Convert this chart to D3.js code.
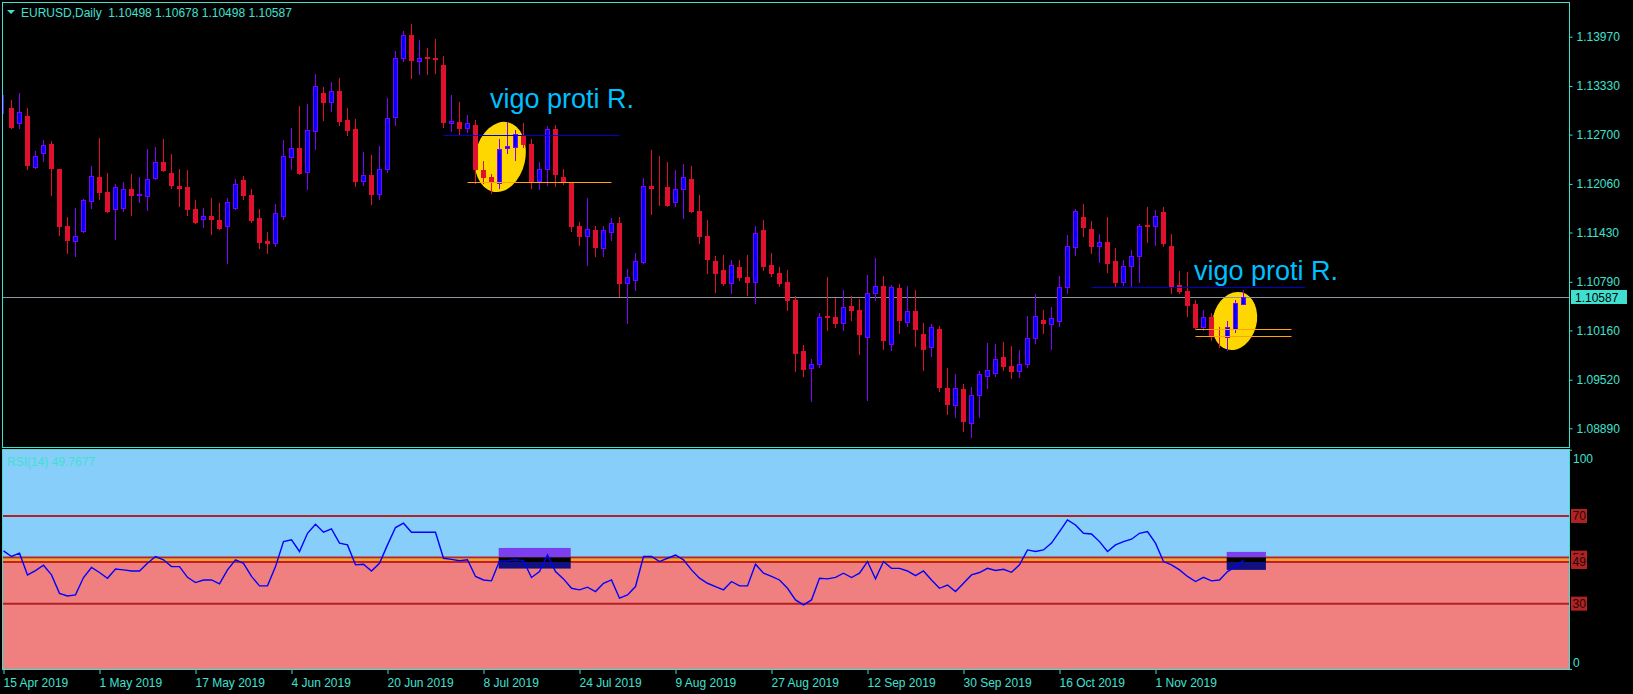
<!DOCTYPE html>
<html><head><meta charset="utf-8">
<script src="https://cdnjs.cloudflare.com/ajax/libs/d3/7.8.5/d3.min.js"></script>
<style>
html,body{margin:0;padding:0;background:#000;overflow:hidden}
svg{display:block}
text{font-family:"Liberation Sans",Arial,sans-serif}
</style>
</head><body>
<svg id="c" width="1633" height="694"></svg>
<script>
// ---------- DATA ----------
const opens = [1.1304,1.1304,1.1285,1.1294,1.1228,1.1246,1.1258,1.1225,1.1152,1.1132,1.1145,1.1184,1.1215,1.1196,1.1173,1.1175,1.1199,1.1191,1.1190,1.1214,1.1234,1.1220,1.1203,1.1202,1.1173,1.1160,1.1165,1.1159,1.1151,1.1175,1.1211,1.1192,1.1162,1.1132,1.1129,1.1165,1.1241,1.1253,1.1222,1.1275,1.1324,1.1312,1.1327,1.1289,1.1277,1.1210,1.1217,1.1193,1.1226,1.1293,1.1370,1.1399,1.1365,1.1371,1.1369,1.1360,1.1285,1.1286,1.1278,1.1283,1.1224,1.1215,1.1207,1.1252,1.1254,1.1270,1.1258,1.1210,1.1225,1.1277,1.1215,1.1209,1.1152,1.1139,1.1146,1.1123,1.1144,1.1155,1.1078,1.1081,1.1105,1.1203,1.1200,1.1202,1.1182,1.1200,1.1213,1.1171,1.1139,1.1106,1.1094,1.1077,1.1098,1.1085,1.1079,1.1146,1.1101,1.1090,1.1079,1.1056,1.0989,1.0967,1.0973,1.1035,1.1034,1.1025,1.1048,1.1042,1.1008,1.1065,1.1073,1.0999,1.1071,1.1027,1.1041,1.1011,1.0994,1.1018,1.0941,1.0919,1.0940,1.0896,1.0932,1.0957,1.0961,1.0982,1.0970,1.0963,1.0973,1.1006,1.1030,1.1024,1.1028,1.1072,1.1124,1.1163,1.1148,1.1125,1.1131,1.1106,1.1079,1.1099,1.1112,1.1153,1.1152,1.1170,1.1126,1.1075,1.1067,1.1050,1.1020,1.1033,1.1008,1.1008,1.1018,1.10498];
const highs = [1.1321,1.1315,1.1324,1.1304,1.1249,1.1263,1.1262,1.1225,1.1163,1.1175,1.1187,1.1229,1.1266,1.1220,1.1206,1.1209,1.1219,1.1215,1.1251,1.1254,1.1264,1.1245,1.1225,1.1224,1.1185,1.1175,1.1188,1.1181,1.1188,1.1212,1.1216,1.1200,1.1174,1.1144,1.1180,1.1263,1.1279,1.1307,1.1310,1.1349,1.1332,1.1338,1.1344,1.1305,1.1290,1.1248,1.1244,1.1255,1.1318,1.1378,1.1404,1.1414,1.1393,1.1382,1.1394,1.1372,1.1321,1.1312,1.1296,1.1289,1.1236,1.1219,1.1264,1.1286,1.1276,1.1285,1.1264,1.1235,1.1281,1.1283,1.1225,1.1209,1.1157,1.1188,1.1152,1.1152,1.1162,1.1163,1.1096,1.1117,1.1214,1.1250,1.1242,1.1234,1.1224,1.1232,1.1229,1.1192,1.1159,1.1113,1.1114,1.1107,1.1107,1.1114,1.1151,1.1159,1.1117,1.1098,1.1094,1.1061,1.0997,1.0979,1.1038,1.1085,1.1058,1.1069,1.1061,1.1057,1.1088,1.1110,1.1087,1.1075,1.1076,1.1074,1.1069,1.1026,1.1024,1.1022,1.0967,1.0960,1.0947,1.0943,1.0963,1.1000,1.0998,1.1001,1.0996,1.0991,1.1035,1.1063,1.1043,1.1046,1.1087,1.1140,1.1174,1.1180,1.1158,1.1141,1.1163,1.1123,1.1107,1.1120,1.1154,1.1176,1.1172,1.1176,1.1141,1.1093,1.1092,1.1056,1.1043,1.1038,1.1021,1.1028,1.1056,1.10678];
const lows = [1.1298,1.1279,1.1279,1.1226,1.1227,1.1236,1.1192,1.1140,1.1117,1.1112,1.1143,1.1175,1.1187,1.1170,1.1135,1.1171,1.1166,1.1183,1.1172,1.1212,1.1223,1.1201,1.1177,1.1166,1.1155,1.1150,1.1141,1.1148,1.1103,1.1174,1.1187,1.1157,1.1123,1.1116,1.1125,1.1160,1.1225,1.1219,1.1200,1.1251,1.1289,1.1301,1.1283,1.1269,1.1203,1.1204,1.1180,1.1187,1.1222,1.1283,1.1366,1.1344,1.1348,1.1348,1.1350,1.1280,1.1275,1.1270,1.1273,1.1207,1.1207,1.1194,1.1201,1.1246,1.1237,1.1254,1.1201,1.1200,1.1205,1.1203,1.1206,1.1145,1.1127,1.1101,1.1112,1.1113,1.1133,1.1060,1.1026,1.1069,1.1104,1.1167,1.1179,1.1177,1.1178,1.1162,1.1170,1.1130,1.1091,1.1066,1.1075,1.1065,1.1081,1.1062,1.1052,1.1094,1.1086,1.1073,1.1042,1.0963,1.0957,1.0925,1.0968,1.1017,1.1020,1.1016,1.1030,1.0985,1.0926,1.1055,1.0992,1.0990,1.1013,1.1022,1.0996,1.0965,1.0983,1.0937,1.0908,1.0904,1.0885,1.0878,1.0904,1.0941,1.0957,1.0965,1.0954,1.0956,1.0969,1.1000,1.1013,1.0992,1.1022,1.1065,1.1114,1.1139,1.1117,1.1105,1.1092,1.1073,1.1075,1.1072,1.1079,1.1131,1.1127,1.1125,1.1064,1.1065,1.1035,1.1019,1.1016,1.1003,1.0995,1.0991,1.1014,1.10498];
const closes = [1.1305,1.1280,1.1299,1.1230,1.1242,1.1257,1.1227,1.1152,1.1133,1.1139,1.1185,1.1216,1.1195,1.1171,1.1202,1.1199,1.1192,1.1193,1.1212,1.1234,1.1224,1.1204,1.1201,1.1173,1.1157,1.1165,1.1161,1.1149,1.1182,1.1206,1.1191,1.1159,1.1131,1.1129,1.1168,1.1242,1.1252,1.1220,1.1276,1.1333,1.1312,1.1326,1.1287,1.1276,1.1210,1.1217,1.1193,1.1226,1.1292,1.1370,1.1399,1.1367,1.1369,1.1370,1.1368,1.1286,1.1287,1.1278,1.1285,1.1225,1.1215,1.1209,1.1251,1.1255,1.1271,1.1258,1.1208,1.1225,1.1277,1.1219,1.1208,1.1151,1.1139,1.1147,1.1124,1.1146,1.1155,1.1077,1.1085,1.1106,1.1203,1.1201,1.1199,1.1179,1.1200,1.1215,1.1171,1.1139,1.1109,1.1090,1.1078,1.1101,1.1085,1.1079,1.1142,1.1099,1.1090,1.1078,1.1056,1.0987,1.0966,1.0973,1.1034,1.1034,1.1025,1.1046,1.1042,1.1011,1.1064,1.1073,1.1004,1.1072,1.1029,1.1041,1.1018,1.0992,1.1020,1.0942,1.0920,1.0941,1.0899,1.0932,1.0959,1.0964,1.0979,1.0970,1.0963,1.0973,1.1006,1.1035,1.1026,1.1032,1.1072,1.1125,1.1171,1.1150,1.1125,1.1131,1.1104,1.1079,1.1099,1.1112,1.1152,1.1152,1.1165,1.1129,1.1073,1.1067,1.1049,1.1020,1.1033,1.1009,1.1007,1.1021,1.1052,1.10587];
const rsiValues = [54.1,51.5,53.0,43.1,45.1,47.5,43.1,34.7,33.5,34.0,41.9,46.5,44.2,41.6,45.8,45.4,44.9,44.9,48.4,51.5,50.0,46.9,46.9,42.0,39.6,40.8,40.8,39.0,45.4,50.0,48.4,42.4,38.1,38.1,46.9,58.3,59.1,53.8,62.1,66.2,62.6,64.1,57.6,56.8,47.7,48.0,44.9,48.4,56.8,64.7,66.7,62.6,62.6,62.6,62.6,50.7,50.2,49.6,50.0,42.4,40.8,40.4,49.5,49.6,50.0,49.5,41.9,44.6,52.2,44.6,41.3,37.0,36.3,37.5,35.5,39.3,40.8,32.5,34.0,37.8,51.5,51.5,49.2,50.7,52.2,50.0,45.4,41.6,39.3,37.8,36.3,40.1,38.1,38.1,48.0,43.9,42.4,40.8,37.0,31.7,29.4,31.7,41.6,41.3,42.0,43.9,41.9,43.9,49.2,41.3,49.2,46.1,46.1,44.9,42.8,44.9,40.8,37.0,38.5,35.5,39.3,43.1,44.2,46.1,45.1,45.7,44.3,47.7,54.5,53.8,54.5,57.6,62.9,68.2,65.9,62.1,61.8,58.3,53.8,56.8,58.3,59.4,62.1,62.9,57.6,49.2,47.7,45.4,42.4,40.1,42.0,40.4,40.8,44.6,46.9,49.8];
const priceTicks = [1.13970,1.13330,1.12700,1.12060,1.11430,1.10790,1.10160,1.09520,1.08890];
const dateLabels = ["15 Apr 2019","1 May 2019","17 May 2019","4 Jun 2019","20 Jun 2019","8 Jul 2019","24 Jul 2019","9 Aug 2019","27 Aug 2019","12 Sep 2019","30 Sep 2019","16 Oct 2019","1 Nov 2019"];
const dateBars = [0,12,24,36,48,60,72,84,96,108,120,132,144];
const rsiLevels = [70,51,49,30];
const rsiLevelLabels = ["70","51","49","30"];
const lastPrice = 1.10587;
const headerText = "EURUSD,Daily  1.10498 1.10678 1.10498 1.10587";
const rsiTitle = "RSI(14) 49.7677";
// annotations (bar index / price)
const hLines = [
  {b0:55,b1:77,p:1.12691,c:"#0000cd"},
  {b0:58,b1:76,p:1.12081,c:"#ffa500"},
  {b0:136,b1:162.7,p:1.10719,c:"#0000cd"},
  {b0:149,b1:161,p:1.10174,c:"#ffa500"},
  {b0:149,b1:161,p:1.10088,c:"#ffa500"}
];
const ellipses = [{b:62.1,p:1.12410,rx:25,ry:35.5,rot:12},{b:153.9,p:1.10282,rx:22,ry:29.5,rot:14}];
const labels = [{b:60.8,p:1.13045,t:"vigo proti R."},{b:148.8,p:1.10814,t:"vigo proti R."}];
const rsiBoxes = [{b0:61.9,b1:70.9,top:55.4,bot:46.0},{b0:152.9,b1:157.8,top:53.6,bot:45.4}];

// ---------- DRAW ----------
const C = "#40e0d0";
const svg = d3.select("#c");
const x = d3.scaleLinear().domain([0,1]).range([3.5,11.5]);
const y = d3.scaleLinear().domain([1.08890,1.13970]).range([428.3,36.7]);
const yR = d3.scaleLinear().domain([0,100]).range([669.4,450.2]);

svg.append("rect").attr("width",1633).attr("height",694).attr("fill","#000");
const defs = svg.append("defs");
defs.append("clipPath").attr("id","cm").append("rect").attr("x",3).attr("y",3).attr("width",1566).attr("height",444);
defs.append("clipPath").attr("id","cr").append("rect").attr("x",3).attr("y",450).attr("width",1566).attr("height",219);

// main panel
const gm = svg.append("g").attr("clip-path","url(#cm)");
// ellipses
ellipses.forEach(e=>{
  gm.append("ellipse").attr("cx",x(e.b)).attr("cy",y(e.p)).attr("rx",e.rx).attr("ry",e.ry)
    .attr("transform",`rotate(${e.rot},${x(e.b)},${y(e.p)})`).attr("fill","#ffd700");
});
// current price line
gm.append("line").attr("x1",3).attr("x2",1569).attr("y1",Math.round(y(lastPrice))+0.5).attr("y2",Math.round(y(lastPrice))+0.5)
  .attr("stroke","#8c96a0").attr("stroke-width",1);
// candles
const bull="#0000ff", bullEdge="#8000ff", bear="#e0102e";
const idx = d3.range(closes.length);
const cg = gm.append("g");
idx.forEach(i=>{
  const o=opens[i], c=closes[i], h=highs[i], l=lows[i];
  const up = c>=o;
  const xc = x(i);
  cg.append("line").attr("x1",xc).attr("x2",xc).attr("y1",Math.round(y(h))).attr("y2",Math.round(y(l))+1)
    .attr("stroke", up?bullEdge:bear).attr("stroke-width",1);
  const yt = Math.round(y(Math.max(o,c))), yb = Math.round(y(Math.min(o,c)));
  const hgt = Math.max(0, yb-yt);
  cg.append("rect").attr("x",xc-2).attr("y",yt+0.5).attr("width",4).attr("height",hgt)
    .attr("fill", up?bull:bear).attr("stroke", up?bullEdge:bear).attr("stroke-width",1);
});
// horizontal lines
hLines.forEach(d=>{
  const yy = Math.round(y(d.p))+0.5;
  gm.append("line").attr("x1",x(d.b0)).attr("x2",x(d.b1)).attr("y1",yy).attr("y2",yy).attr("stroke",d.c).attr("stroke-width",1);
});
// text labels
labels.forEach(d=>{
  gm.append("text").attr("x",x(d.b)).attr("y",y(d.p)).attr("fill","#00bfff").attr("font-size",27).text(d.t);
});
// header
svg.append("path").attr("d","M7,10 L15,10 L11,14 Z").attr("fill",C);
svg.append("text").attr("x",21).attr("y",17).attr("fill",C).attr("font-size",12).style("white-space","pre").text(headerText);
// main border
svg.append("rect").attr("x",2.5).attr("y",2.5).attr("width",1567).attr("height",445).attr("fill","none").attr("stroke",C).attr("stroke-width",1);

// price axis
const ay = svg.append("g").attr("transform","translate(1569.5,0)")
  .call(d3.axisRight(y).tickValues(priceTicks).tickSize(3).tickPadding(4).tickFormat(d3.format(".5f")));
ay.select(".domain").remove();
ay.selectAll("line").attr("stroke",C);
ay.selectAll("text").attr("fill",C).attr("font-size",12).attr("font-family","Liberation Sans, Arial, sans-serif");
// last price tag
const yl = y(lastPrice);
svg.append("rect").attr("x",1571).attr("y",yl-7.5).attr("width",56).attr("height",14).attr("fill",C);
svg.append("text").attr("x",1575).attr("y",yl+4.5).attr("fill","#000").attr("font-size",12).text(d3.format(".5f")(lastPrice));

// RSI panel
const gr = svg.append("g").attr("clip-path","url(#cr)");
gr.append("rect").attr("x",3).attr("y",450).attr("width",1566).attr("height",yR(50)-450).attr("fill","#87cefa");
gr.append("rect").attr("x",3).attr("y",yR(50)).attr("width",1566).attr("height",670-yR(50)).attr("fill","#f08080");
[70,30].forEach(v=>gr.append("line").attr("x1",3).attr("x2",1569).attr("y1",yR(v)).attr("y2",yR(v)).attr("stroke","#b22222").attr("stroke-width",2));
[51,49].forEach(v=>gr.append("line").attr("x1",3).attr("x2",1569).attr("y1",yR(v)).attr("y2",yR(v)).attr("stroke","#c0202a").attr("stroke-width",2));
gr.append("line").attr("x1",3).attr("x2",1569).attr("y1",yR(50)).attr("y2",yR(50)).attr("stroke","#ffa500").attr("stroke-width",2);
// rsi boxes
rsiBoxes.forEach(b=>{
  const x0=x(b.b0), w=x(b.b1)-x(b.b0);
  gr.append("rect").attr("x",x0).attr("y",yR(b.top)).attr("width",w).attr("height",yR(51.1)-yR(b.top)).attr("fill","#7b3ff0");
  gr.append("rect").attr("x",x0).attr("y",yR(51.1)).attr("width",w).attr("height",yR(49)-yR(51.1)).attr("fill","#000");
  gr.append("rect").attr("x",x0).attr("y",yR(49)).attr("width",w).attr("height",yR(b.bot)-yR(49)).attr("fill","#101080");
});
// rsi line
gr.append("path").datum(rsiValues).attr("fill","none").attr("stroke","#0000ff").attr("stroke-width",1.4)
  .attr("d",d3.line().x((d,i)=>x(i)).y(d=>yR(d)));
svg.append("text").attr("x",7).attr("y",466).attr("fill",C).attr("font-size",12).text(rsiTitle);
svg.append("rect").attr("x",2.5).attr("y",449.5).attr("width",1567).attr("height",220).attr("fill","none").attr("stroke",C).attr("stroke-width",1);

// rsi right labels
[100,0].forEach(v=>{
  svg.append("line").attr("x1",1569).attr("x2",1572).attr("y1",yR(v)).attr("y2",yR(v)).attr("stroke",C);
});
svg.append("text").attr("x",1573).attr("y",463).attr("fill",C).attr("font-size",12).text("100");
svg.append("text").attr("x",1573).attr("y",667).attr("fill",C).attr("font-size",12).text("0");
rsiLevels.forEach((v,k)=>{
  const yy=yR(v);
  svg.append("rect").attr("x",1571).attr("y",yy-7).attr("width",16).attr("height",14).attr("fill","#b22222");
  svg.append("text").attr("x",1572.5).attr("y",yy+4.5).attr("fill","#1a0a0a").attr("font-size",12).text(rsiLevelLabels[k]);
});

// x axis
const ax = svg.append("g").attr("transform","translate(0,670)")
  .call(d3.axisBottom(x).tickValues(dateBars).tickSize(4).tickPadding(4).tickFormat((d,i)=>dateLabels[i]));
ax.select(".domain").remove();
ax.selectAll("line").attr("stroke",C);
ax.selectAll("text").attr("fill",C).attr("font-size",12).attr("text-anchor","start").attr("dx",-0.5)
  .attr("font-family","Liberation Sans, Arial, sans-serif");
</script>
</body></html>
